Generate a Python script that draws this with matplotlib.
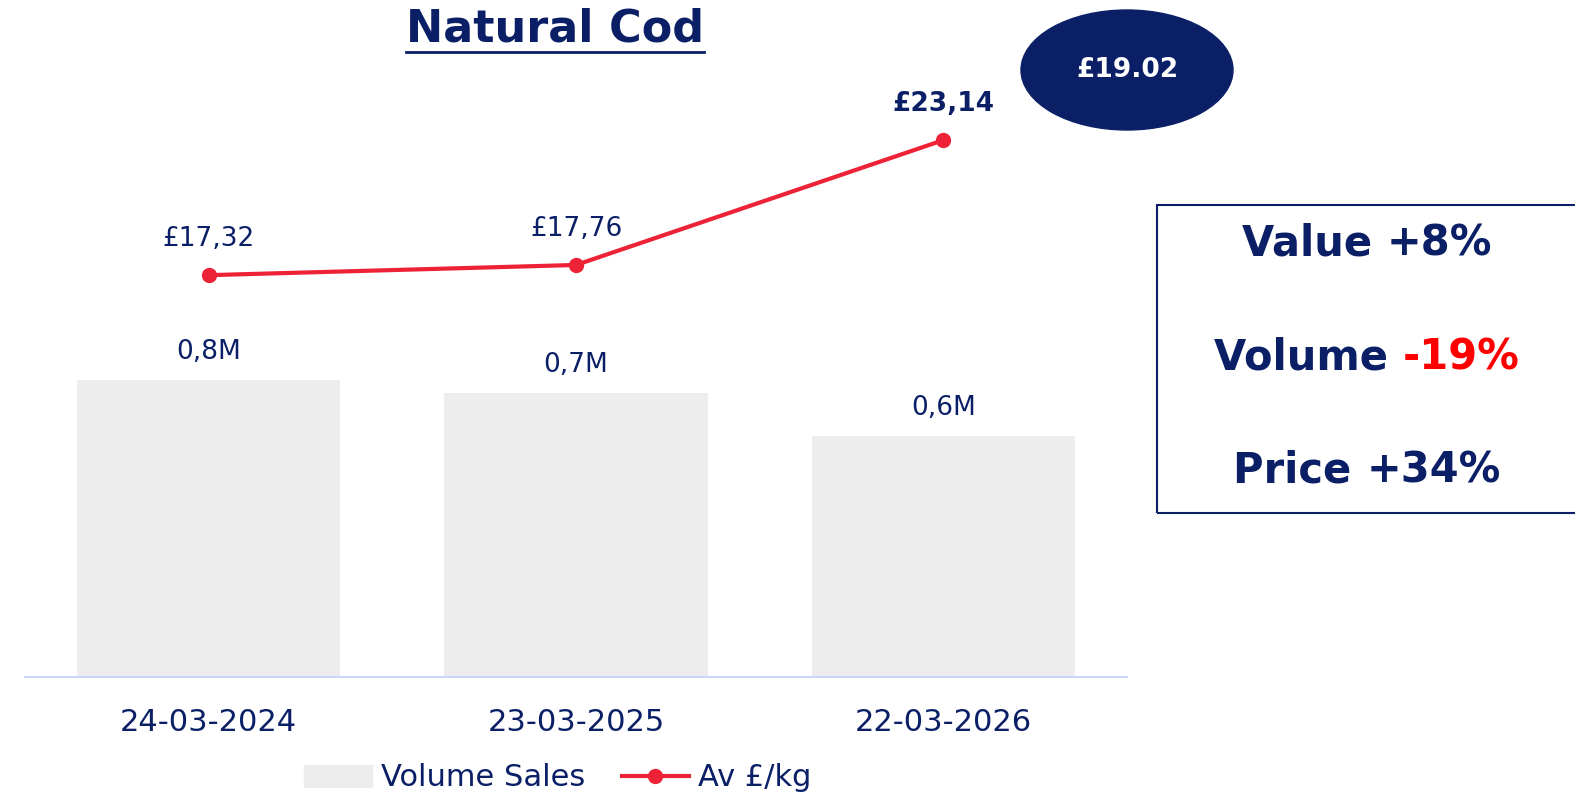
import matplotlib.pyplot as plt
from matplotlib.patches import Ellipse, Rectangle
from matplotlib.lines import Line2D

# data
dates = ["24-03-2024", "23-03-2025", "22-03-2026"]
volume = [0.81, 0.775, 0.657]          # millions
volume_labels = ["0,8M", "0,7M", "0,6M"]
price = [17.32, 17.76, 23.14]          # £/kg
price_labels = ["£17,32", "£17,76", "£23,14"]
bubble_text = "£19.02"
kpi_names = ["Value", "Volume", "Price"]
kpi_values = ["+8%", "-19%", "+34%"]
kpi_colors = ["#0A1F66", "red", "#0A1F66"]

navy = "#0A1F66"
red = "#EE2236"
grey = "#EDEDED"

plt.rcParams['font.family'] = ['DejaVu Sans']

fig = plt.figure(figsize=(15.75, 8.08), dpi=100)
ax = fig.add_axes([25/1575, 131/808, 1102/1575, 597/808])
x = range(len(dates))
ax.bar(x, volume, width=0.717, color=grey, zorder=1)
ax.set_xlim(-0.5, 2.5)
ax.set_ylim(0, 1.628)
for s in ["top", "left", "right"]:
    ax.spines[s].set_visible(False)
ax.spines["bottom"].set_color("#C9D6F5")
ax.spines["bottom"].set_linewidth(1.5)
ax.set_yticks([])
ax.set_xticks(list(x))
ax.set_xticklabels(dates, fontsize=22, color=navy)
ax.tick_params(axis="x", length=0, pad=22)
for i, v in enumerate(volume):
    ax.annotate(volume_labels[i], (i, v), xytext=(0, 20), textcoords="offset points",
                ha="center", va="center", fontsize=19, color=navy)

ax2 = ax.twinx()
ax2.set_ylim(0, 597/23.2)
ax2.axis("off")
ax2.plot(list(x), price, color=red, lw=3, marker="o", ms=10, zorder=3)
for i, v in enumerate(price):
    bold = "bold" if i == len(price) - 1 else "normal"
    ax2.annotate(price_labels[i], (i, v), xytext=(0, 26), textcoords="offset points",
                 ha="center", va="center", fontsize=19, color=navy, fontweight=bold)

# title with underline
title = fig.text(555/1575, 1 - 29/808, "Natural Cod", ha="center", va="center",
                 fontsize=32, fontweight="bold", color=navy)
fig.canvas.draw()
bb = title.get_window_extent().transformed(fig.transFigure.inverted())
fig.add_artist(Line2D([bb.x0, bb.x1], [1 - 52/808] * 2, color=navy, lw=2,
                      transform=fig.transFigure))

# price bubble
fig.add_artist(Ellipse((1127/1575, 1 - 70/808), 212/1575, 120/808, color=navy,
                       transform=fig.transFigure))
fig.text(1127/1575, 1 - 70/808, bubble_text, ha="center", va="center",
         fontsize=19, fontweight="bold", color="white")

# KPI box
fig.add_artist(Rectangle((1157/1575, 1 - 513/808), 430/1575, 308/808, fill=False,
                         edgecolor=navy, lw=1.5, transform=fig.transFigure))
kpi_y = [243, 357, 471]
for name, val, col, yy in zip(kpi_names, kpi_values, kpi_colors, kpi_y):
    t1 = fig.text(0, 1 - yy/808, name + " ", ha="left", va="center",
                  fontsize=30, fontweight="bold", color=navy)
    t2 = fig.text(0, 1 - yy/808, val, ha="left", va="center",
                  fontsize=30, fontweight="bold", color=col)
    fig.canvas.draw()
    w1 = t1.get_window_extent().width / 1575
    w2 = t2.get_window_extent().width / 1575
    x0 = 1367/1575 - (w1 + w2) / 2
    t1.set_x(x0)
    t2.set_x(x0 + w1)

# legend
handles = [Rectangle((0, 0), 1, 1, color=grey),
           Line2D([], [], color=red, lw=3, marker="o", ms=10)]
fig.legend(handles, ["Volume Sales", "Av £/kg"], loc="center", ncol=2,
           bbox_to_anchor=(558/1575, 1 - 778/808), frameon=False, fontsize=22,
           labelcolor=navy, handlelength=2.2, handletextpad=0.3, columnspacing=1.2)

fig.savefig("out.png", dpi=100)
